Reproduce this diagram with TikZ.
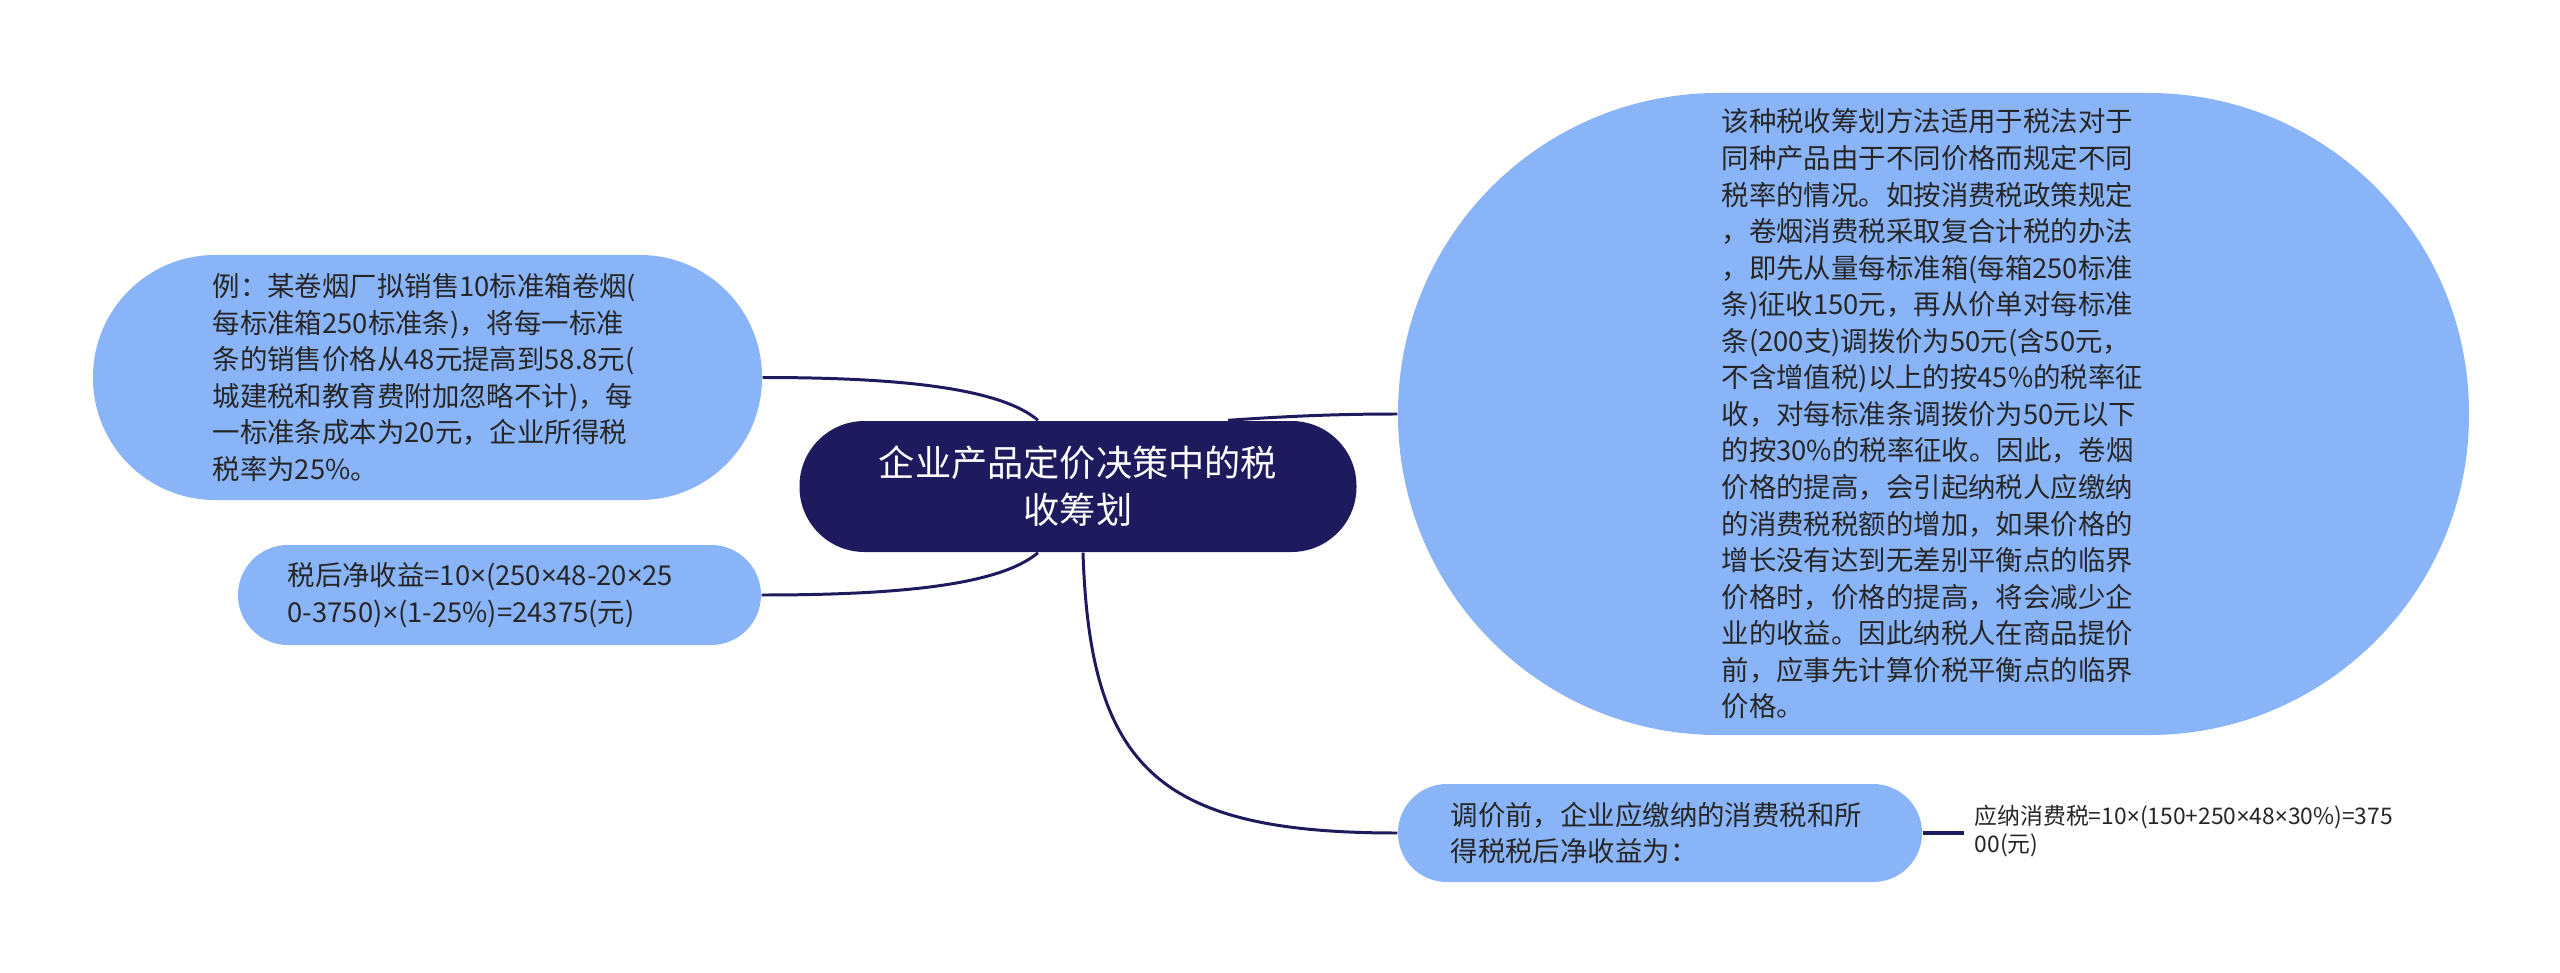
\documentclass[tikz,border=0pt]{standalone}
\usepackage{fontspec}
\setmainfont{Noto Sans CJK SC}
\newfontfamily\latinfont{Noto Sans}
\newcommand{\mul}{{\latinfont ×}}
\usepackage{tikz}

\definecolor{mapnavy}{HTML}{1E1A5E}
\definecolor{bubbleblue}{HTML}{8AB4F8}
\definecolor{inkgray}{HTML}{262626}

\tikzset{
  rootbox/.style={rectangle, fill=mapnavy, text=white, align=center, inner sep=0pt,
    font=\fontsize{10.3pt}{13.4pt}\selectfont},
  bubble/.style={rectangle, fill=bubbleblue, inner sep=0pt},
  bubbletext/.style={anchor=west, inner sep=0pt, align=left, text=inkgray,
    font=\fontsize{7.8pt}{10.4pt}\selectfont},
  branch/.style={draw=mapnavy, line width=0.85pt},
}

\begin{document}
\begin{tikzpicture}
    \useasboundingbox (0,0) rectangle (25.6,-9.73);

    \node[rootbox, minimum width=5.57cm, minimum height=1.31cm, rounded corners=0.65cm] (root) at (10.78,-4.865) {企业产品定价决策中的税\\收筹划};

    \node[bubble, minimum width=6.69cm, minimum height=2.45cm, rounded corners=1.22cm] (case) at (4.275,-3.775) {};
    \node[bubble, minimum width=5.23cm, minimum height=1.00cm, rounded corners=0.499cm] (net) at (4.995,-5.95) {};
    \node[bubble, minimum width=10.71cm, minimum height=6.42cm, rounded corners=3.2cm] (rule) at (19.335,-4.14) {};
    \node[bubble, minimum width=5.24cm, minimum height=0.98cm, rounded corners=0.489cm] (before) at (16.6,-8.33) {};

    \node[bubbletext] (case-txt) at (2.12,-3.775) {例：某卷烟厂拟销售10标准箱卷烟(\\每标准箱250标准条)，将每一标准\\条的销售价格从48元提高到58.8元(\\城建税和教育费附加忽略不计)，每\\一标准条成本为20元，企业所得税\\税率为25\%。};
    \node[bubbletext] (net-txt) at (2.87,-5.95) {税后净收益=10\mul(250\mul48-20\mul25\\0-3750)\mul(1-25\%)=24375(元)};
    \node[bubbletext] (rule-txt) at (17.21,-4.14) {该种税收筹划方法适用于税法对于\\同种产品由于不同价格而规定不同\\税率的情况。如按消费税政策规定\\，卷烟消费税采取复合计税的办法\\，即先从量每标准箱(每箱250标准\\条)征收150元，再从价单对每标准\\条(200支)调拨价为50元(含50元，\\不含增值税)以上的按45\%的税率征\\收，对每标准条调拨价为50元以下\\的按30\%的税率征收。因此，卷烟\\价格的提高，会引起纳税人应缴纳\\的消费税税额的增加，如果价格的\\增长没有达到无差别平衡点的临界\\价格时，价格的提高，将会减少企\\业的收益。因此纳税人在商品提价\\前，应事先计算价税平衡点的临界\\价格。};
    \node[bubbletext] (before-txt) at (14.50,-8.33) {调价前，企业应缴纳的消费税和所\\得税税后净收益为：};
    \node[bubbletext, inner xsep=0.1cm, font=\fontsize{6.5pt}{7.8pt}\selectfont] (vat) at (19.64,-8.31) {应纳消费税=10\mul(150+250\mul48\mul30\%)=375\\00(元)};

    % branches
    \draw[branch] (case.east) .. controls (9.0,-3.775) and (10.0,-3.88) .. ([xshift=-0.4cm]root.north);
    \draw[branch] (net.east) .. controls (9.0,-5.95) and (10.0,-5.85) .. ([xshift=-0.4cm]root.south);
    \draw[branch] ([xshift=1.5cm]root.north) .. controls (12.9,-4.16) and (13.4,-4.14) .. (rule.west);
    \draw[branch] ([xshift=0.05cm]root.south) .. controls (10.9,-7.7) and (11.6,-8.33) .. (before.west);
    \draw[branch, line width=1.4pt] (before.east) -- (before.east -| vat.west);
\end{tikzpicture}
\end{document}
